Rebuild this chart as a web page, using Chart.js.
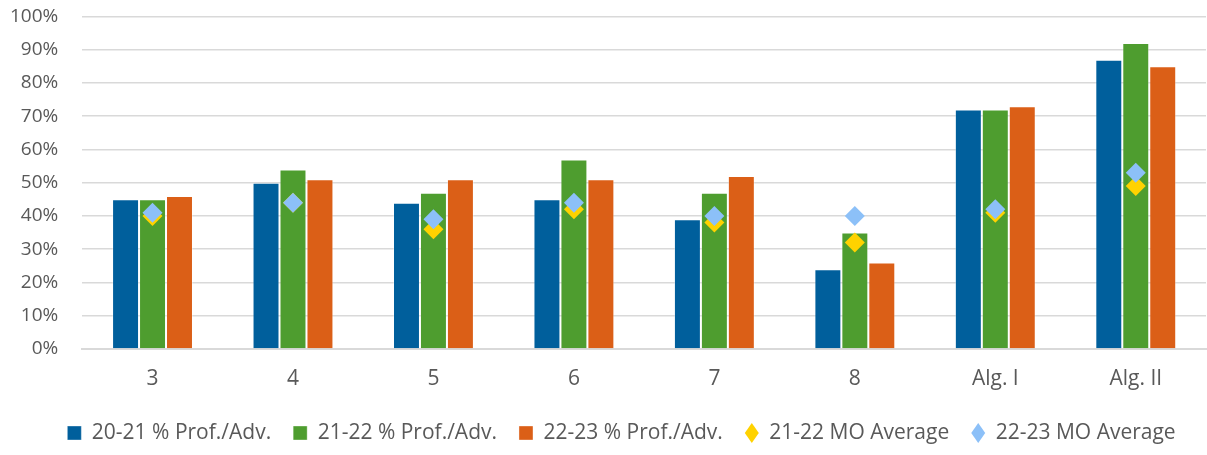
<!DOCTYPE html>
<html><head><meta charset="utf-8">
<script src="https://cdn.jsdelivr.net/npm/chart.js@4"></script>
<style>html,body{margin:0;padding:0;background:#fff}#wrap{width:1207px;height:455px}</style>
</head><body><div id="wrap"><canvas id="c" width="1207" height="455"></canvas></div>
<script>
const categories = ["3","4","5","6","7","8","Alg. I","Alg. II"];
const prof2021 = [45,50,44,45,39,24,72,87];
const prof2122 = [45,54,47,57,47,35,72,92];
const prof2223 = [46,51,51,51,52,26,73,85];
const mo2122 = [40,44,36,42,38,32,41,49];
const mo2223 = [41,44,39,44,40,40,42,53];
const yTicks = [0,10,20,30,40,50,60,70,80,90,100];

const font = "'Open Sans', 'Liberation Sans', Arial, sans-serif";
const bar = (label, data, color) => ({type:'bar', label, data, backgroundColor:color, borderColor:'rgba(255,255,255,0.35)', borderWidth:1, order:2, pointStyle:'rect'});
const pts = (label, data, color, order) => ({type:'line', label, data, showLine:false, backgroundColor:color, borderColor:color, pointStyle:'rectRot', pointRadius:10, pointHoverRadius:10, borderWidth:0, order});

const legendShift = {
  id:'legendShift',
  afterLayout(chart){ const l = chart.legend; if (l) { l.left += 16; l.right += 16; } }
};

new Chart(document.getElementById('c'), {
  data: {
    labels: categories,
    datasets: [
      bar('20-21 % Prof./Adv.', prof2021, '#005F9C'),
      bar('21-22 % Prof./Adv.', prof2122, '#4E9D2F'),
      bar('22-23 % Prof./Adv.', prof2223, '#DB5F17'),
      pts('21-22 MO Average', mo2122, '#FFD200', 1),
      pts('22-23 MO Average', mo2223, '#8CC0F8', 0)
    ]
  },
  plugins:[legendShift],
  options: {
    responsive:false, animation:false,
    layout:{autoPadding:false, padding:{left:5,right:1,top:5,bottom:1.5}},
    datasets:{bar:{barPercentage:1, categoryPercentage:0.576}},
    scales:{
      x:{grid:{display:true, color:'rgba(0,0,0,0)', drawTicks:true, tickLength:8.5, tickColor:'rgba(0,0,0,0)'},
         border:{display:true,color:'#d9d9d9',width:2},
         ticks:{color:'#595959', font:{family:font,size:21}, padding:8.9}},
      y:{min:0,max:100, afterBuildTicks:(s)=>{s.ticks=yTicks.map(v=>({value:v}));},
         grid:{color:'#d9d9d9', lineWidth:1.5, drawTicks:true, tickLength:19, tickColor:'rgba(0,0,0,0)'}, border:{display:false},
         ticks:{color:'#595959', font:{family:font,size:19}, padding:5, callback:v=>v+'%'}}
    },
    plugins:{
      legend:{position:'bottom', labels:{usePointStyle:true, boxHeight:14, pointStyleWidth:14, padding:22, color:'#595959', font:{family:font,size:21}, sort:(a,b)=>a.datasetIndex-b.datasetIndex}},
      tooltip:{enabled:false}
    }
  }
});
</script></body></html>
